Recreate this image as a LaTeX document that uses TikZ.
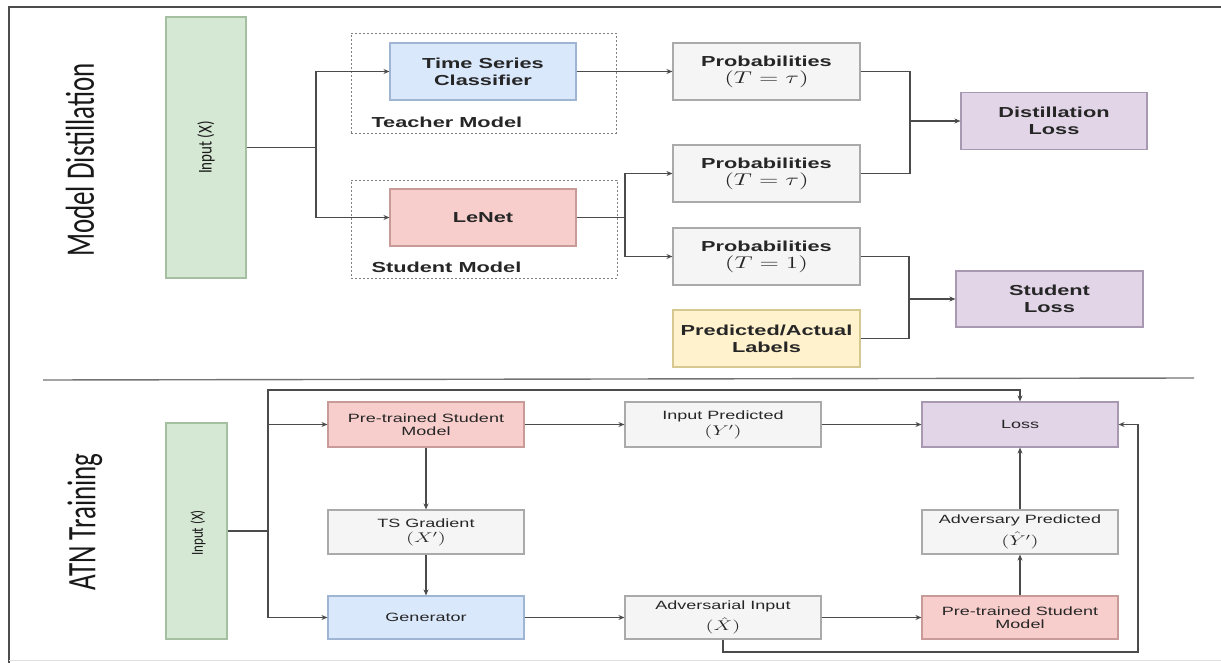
\RequirePackage{fix-cm}
\documentclass[tikz,border=0pt]{standalone}
\usepackage{fontspec}
\usepackage{graphicx}
\usetikzlibrary{positioning,arrows.meta,calc}
\newfontfamily\boxfont[FakeStretch=1.5]{Liberation Sans}
\newfontfamily\sidefont{Carlito}
\definecolor{cInF}{RGB}{213,232,212}
\definecolor{cInD}{RGB}{165,192,160}
\definecolor{cBlueF}{RGB}{218,232,252}
\definecolor{cBlueD}{RGB}{160,180,212}
\definecolor{cRedF}{RGB}{248,206,204}
\definecolor{cRedD}{RGB}{200,155,152}
\definecolor{cGreyF}{RGB}{245,245,245}
\definecolor{cGreyD}{RGB}{170,170,170}
\definecolor{cYelF}{RGB}{255,242,204}
\definecolor{cYelD}{RGB}{215,200,145}
\definecolor{cPurF}{RGB}{225,213,231}
\definecolor{cPurD}{RGB}{168,152,178}
\definecolor{cLine}{RGB}{75,75,75}
% stretched math and side titles
\newcommand{\wmath}[1]{\scalebox{1.75}[1.17]{$#1$}}
\newcommand{\sidetext}[3]{\scalebox{1}[#2]{\sidefont\fontsize{#1}{#1}\selectfont #3}}

\begin{document}
\begin{tikzpicture}[
  x=1pt, y=-1pt,
  blk/.style 2 args={draw=#1, fill=#2, line width=1.1pt, inner sep=0pt,
    align=center, text=black!85},
  upbox/.style={font=\boxfont\bfseries\fontsize{14.5}{17}\selectfont,
    minimum width=186pt, minimum height=57pt},
  lowbox/.style={font=\boxfont\fontsize{12}{13}\selectfont,
    minimum width=196pt, minimum height=45pt},
  grp/.style={draw=black!50, line width=0.9pt, dash pattern=on 2pt off 2pt,
    inner sep=0pt},
  grplbl/.style={anchor=west, font=\boxfont\bfseries\fontsize{14.5}{17}\selectfont,
    text=black!85},
  side/.style={rotate=90, inner sep=0pt, text=black!90},
  arr/.style={-{Stealth[length=6pt,width=5pt]}, line width=1.1pt, cLine},
  wire/.style={line width=1.1pt, cLine},
]
\useasboundingbox (0,0) rectangle (1221,663);

% Frame and separator
\draw[line width=2.4pt, black!70] (9,663) -- (9,7) -- (1221,7);
\draw[line width=1pt, black!12] (9,660) -- (1221,660);
\draw[line width=1.4pt, black!55] (43,380) -- (1194,378);

% Section titles
\node[side] (tDist) at (80,160) {\sidetext{27}{1.5}{Model Distillation}};
\node[side] (tAtn) at (85,522) {\sidetext{27}{1.5}{ATN Training}};

% Model distillation
\node[blk={cInD}{cInF}, minimum width=80pt, minimum height=261pt]
  (inA) at (206,147.5) {};
\node[side] at (inA) {\sidetext{15}{1.3}{Input (X)}};

\node[grp, minimum width=265pt, minimum height=100pt] (teacher) at (483.5,83) {};
\node[grp, minimum width=266pt, minimum height=98pt] (student) at (484,229) {};
\node[grplbl] (teacherLbl) at (368,122) {Teacher Model};
\node[grplbl] (studentLbl) at (368,267) {Student Model};

\node[blk={cBlueD}{cBlueF}, upbox] (tsc) at (483,71.5) {Time Series\\Classifier};
\node[blk={cRedD}{cRedF}, upbox] (lenet) at (483,217.5) {LeNet};

\node[blk={cGreyD}{cGreyF}, upbox, minimum width=187pt] (probA) at (766.5,71.5)
  {Probabilities\\\wmath{(T=\tau)}};
\node[blk={cGreyD}{cGreyF}, upbox, minimum width=187pt] (probB) at (766.5,173.5)
  {Probabilities\\\wmath{(T=\tau)}};
\node[blk={cGreyD}{cGreyF}, upbox, minimum width=187pt] (probC) at (766.5,256.5)
  {Probabilities\\\wmath{(T=1)}};
\node[blk={cYelD}{cYelF}, upbox, minimum width=187pt] (labels) at (766.5,338.5)
  {Predicted/Actual\\Labels};

\node[blk={cPurD}{cPurF}, upbox] (dloss) at (1054,121) {Distillation\\Loss};
\node[blk={cPurD}{cPurF}, upbox, minimum width=187pt, minimum height=56pt]
  (sloss) at (1049.5,299) {Student\\Loss};

\coordinate (splitA) at (316,147.5);
\coordinate (splitB) at (625,217.5);
\coordinate (mergeA) at (910,121);
\coordinate (mergeB) at (909,299);
\draw[wire] (inA.east) -- (splitA);
\draw[arr] (splitA) |- (tsc.west);
\draw[arr] (splitA) |- (lenet.west);
\draw[arr] (tsc) -- (probA);
\draw[wire] (lenet.east) -- (splitB);
\draw[arr] (splitB) |- (probB.west);
\draw[arr] (splitB) |- (probC.west);
\draw[wire] (probA.east) -| (mergeA);
\draw[wire] (probB.east) -| (mergeA);
\draw[arr] (mergeA) -- (dloss.west);
\draw[wire] (probC.east) -| (mergeB);
\draw[wire] (labels.east) -| (mergeB);
\draw[arr] (mergeB) -- (sloss.west);

% ATN training
\node[blk={cInD}{cInF}, minimum width=61pt, minimum height=216pt]
  (inB) at (196.5,531) {};
\node[side] at (198,533) {\sidetext{13}{1.3}{Input (X)}};

\node[blk={cRedD}{cRedF}, lowbox] (psmA) at (426,424.5) {Pre-trained Student\\Model};
\node[blk={cGreyD}{cGreyF}, lowbox, minimum height=44pt] (tsgrad) at (426,532)
  {TS Gradient\\[2pt]\wmath{(X')}};
\node[blk={cBlueD}{cBlueF}, lowbox, minimum height=43pt] (gen) at (426,617.5) {Generator};

\node[blk={cGreyD}{cGreyF}, lowbox] (inpred) at (723,424.5)
  {Input Predicted\\[2pt]\wmath{(Y')}};
\node[blk={cGreyD}{cGreyF}, lowbox, minimum height=43pt] (advin) at (723,617.5)
  {Adversarial Input\\[5pt]\wmath{(\hat{X})}};

\node[blk={cPurD}{cPurF}, lowbox] (loss) at (1020,424.5) {Loss};
\node[blk={cGreyD}{cGreyF}, lowbox, minimum height=44pt] (advpred) at (1020,532)
  {Adversary Predicted\\[5pt]\wmath{(\hat{Y}')}};
\node[blk={cRedD}{cRedF}, lowbox, minimum height=43pt] (psmB) at (1020,617.5)
  {Pre-trained Student\\Model};

\coordinate (splitC) at (268,531);
\coordinate (topR) at (1020,390);
\coordinate (fbR) at (1138,652);
\draw[wire] (inB.east) -- (splitC);
\draw[arr] (splitC) |- (topR) -- (loss.north);
\draw[arr] (splitC) |- (psmA.west);
\draw[arr] (splitC) |- (gen.west);
\draw[arr] (psmA) -- (tsgrad);
\draw[arr] (tsgrad) -- (gen);
\draw[arr] (psmA) -- (inpred);
\draw[arr] (inpred) -- (loss);
\draw[arr] (gen) -- (advin);
\draw[arr] (advin) -- (psmB);
\draw[arr] (psmB) -- (advpred);
\draw[arr] (advpred) -- (loss);
\draw[arr] (advin.south) |- (fbR) |- (loss.east);

\end{tikzpicture}
\end{document}
